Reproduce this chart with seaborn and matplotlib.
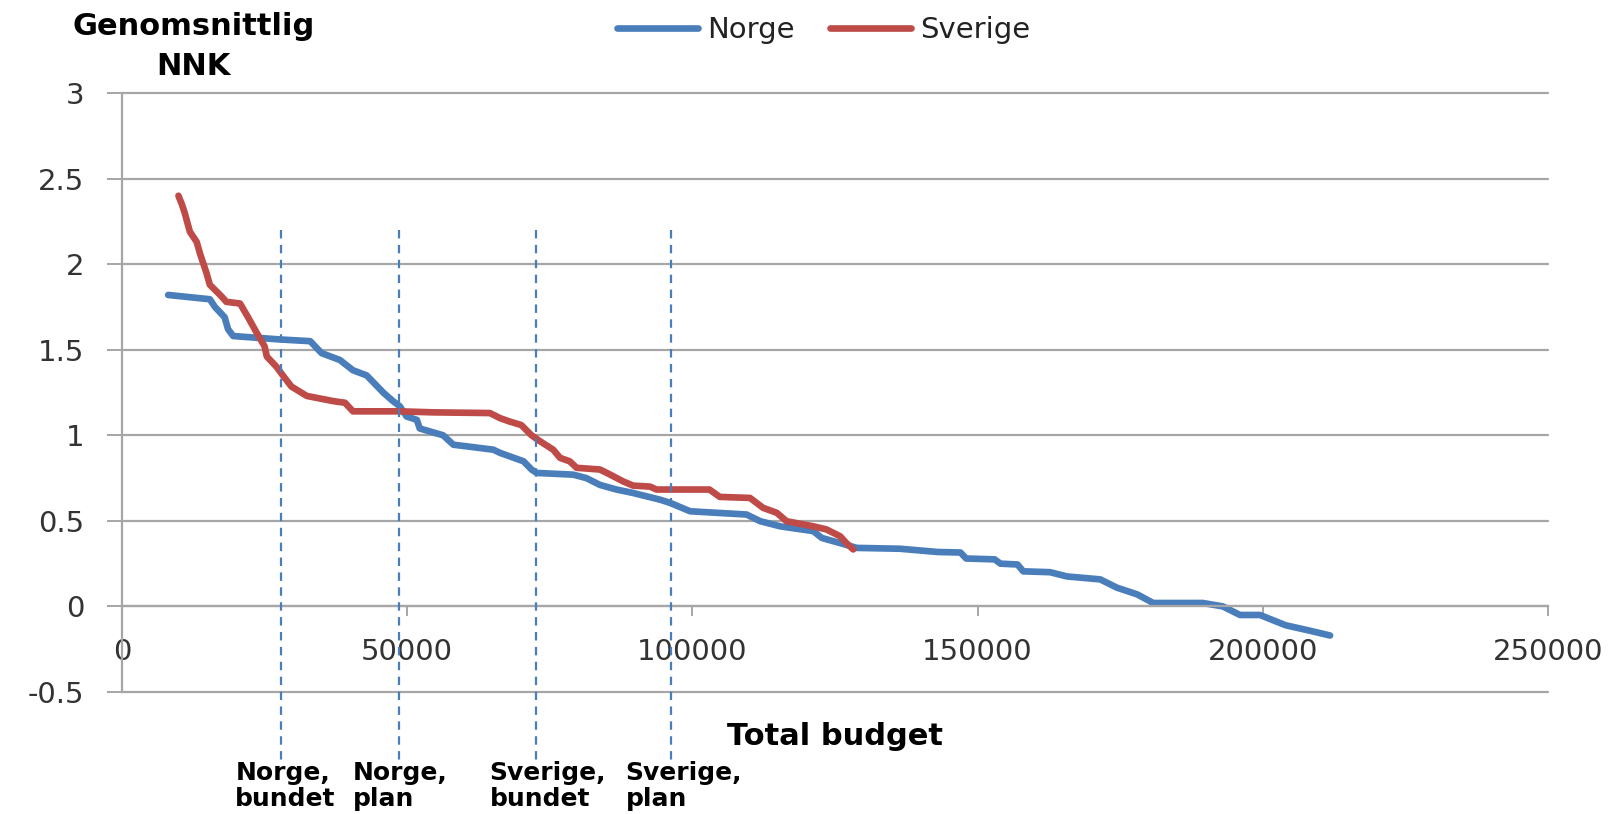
import numpy as np
import pandas as pd
import matplotlib
matplotlib.use("Agg")
import matplotlib.pyplot as plt
import seaborn as sns

sns.set_theme(style="white")
plt.rcParams['font.family'] = ['DejaVu Sans']
plt.rcParams['axes.unicode_minus'] = False

# values (budget in kr, average NNK)
norge_budget = [8100, 15400, 16300, 18000, 18600, 19500, 27700, 33000, 35000, 38200,
                40500, 42900, 45800, 47500, 48700, 49900, 51700, 52200, 56300, 58100,
                65100, 66300, 70400, 71800, 72700, 79100, 81400, 83800, 86700, 89600,
                92000, 94300, 96100, 99600, 109500, 111900, 115400, 121200, 122700, 125900,
                128800, 136400, 143000, 147000, 148000, 153000, 154000, 157000, 158000, 162700,
                165700, 171500, 174400, 178000, 180800, 189500, 193000, 196000, 199500, 204000,
                208000, 211800]
norge_nnk = [1.82, 1.795, 1.75, 1.69, 1.62, 1.58, 1.56, 1.55, 1.48, 1.44,
             1.38, 1.35, 1.25, 1.20, 1.17, 1.11, 1.09, 1.04, 1.00, 0.945,
             0.916, 0.897, 0.848, 0.80, 0.78, 0.77, 0.75, 0.71, 0.683, 0.663,
             0.643, 0.624, 0.605, 0.556, 0.537, 0.498, 0.468, 0.44, 0.40, 0.37,
             0.342, 0.337, 0.318, 0.315, 0.28, 0.275, 0.25, 0.245, 0.205, 0.20,
             0.175, 0.158, 0.11, 0.07, 0.02, 0.02, 0.0, -0.05, -0.05, -0.11,
             -0.14, -0.17]

sverige_budget = [9900, 10500, 11000, 11900, 13100, 13700, 14800, 15400, 17500, 18300,
                  20700, 22100, 23600, 25000, 25400, 27100, 28200, 29700, 32400, 37000,
                  39100, 40500, 48700, 54600, 64500, 66300, 68000, 70000, 71800, 73300,
                  75600, 76800, 78500, 79700, 83800, 85600, 87900, 89600, 92600, 93700,
                  103000, 104800, 110100, 112400, 114800, 116500, 121200, 123500, 125900, 127000,
                  128200]
sverige_nnk = [2.40, 2.35, 2.30, 2.19, 2.13, 2.06, 1.95, 1.88, 1.81, 1.78,
               1.77, 1.69, 1.60, 1.52, 1.46, 1.40, 1.35, 1.285, 1.23, 1.20,
               1.19, 1.14, 1.14, 1.134, 1.13, 1.10, 1.08, 1.06, 1.00, 0.965,
               0.916, 0.868, 0.848, 0.81, 0.80, 0.77, 0.73, 0.706, 0.70, 0.683,
               0.683, 0.64, 0.634, 0.576, 0.547, 0.498, 0.468, 0.45, 0.41, 0.37,
               0.333]

marker_budget = [27900, 48500, 72500, 96300]
marker_labels = ["Norge,\nbundet", "Norge,\nplan", "Sverige,\nbundet", "Sverige,\nplan"]

x_ticks = [0, 50000, 100000, 150000, 200000, 250000]
y_ticks = [-0.5, 0, 0.5, 1, 1.5, 2, 2.5, 3]

df = pd.concat([
    pd.DataFrame({"budget": norge_budget, "nnk": norge_nnk, "land": "Norge"}),
    pd.DataFrame({"budget": sverige_budget, "nnk": sverige_nnk, "land": "Sverige"}),
])

fig = plt.figure(figsize=(16.24, 8.14), dpi=100)
ax = fig.add_axes([0.0751, 0.1499, 0.8781, 0.7358])

grid_col = "#A6A6A6"
for yv in y_ticks:
    ax.axhline(yv, color=grid_col, lw=1.6, zorder=0, clip_on=False)

sns.lineplot(data=df, x="budget", y="nnk", hue="land", ax=ax,
             palette={"Norge": "#4A7EBB", "Sverige": "#BE4B48"},
             linewidth=4.8, sort=False, estimator=None, legend=True,
             solid_capstyle="round", solid_joinstyle="round")

for xb in marker_budget:
    ax.plot([xb, xb], [2.2, -0.91], color="#4A7EBB", lw=1.6,
            linestyle=(0, (3.8, 2.9)), clip_on=False, zorder=3)

for xb, lab in zip(marker_budget, marker_labels):
    ax.annotate(lab, xy=(xb, 0.034), xycoords=("data", "figure fraction"),
                xytext=(-33, 0), textcoords="offset points",
                ha="left", va="center", fontsize=18, fontweight="bold",
                color="black", linespacing=1.1, annotation_clip=False)

ax.set_xlim(0, 250000)
ax.set_ylim(-0.5, 3)
ax.set_xticks(x_ticks)
ax.set_xticklabels([str(v) for v in x_ticks])
ax.set_yticks(y_ticks)
ax.set_yticklabels(["{:g}".format(v) for v in y_ticks])

for s in ["top", "right"]:
    ax.spines[s].set_visible(False)
ax.spines["bottom"].set_position(("data", 0))
ax.spines["bottom"].set_color(grid_col)
ax.spines["bottom"].set_linewidth(1.6)
ax.spines["left"].set_color(grid_col)
ax.spines["left"].set_linewidth(1.6)

ax.tick_params(axis="x", direction="out", length=7, width=1.4, color=grid_col,
               labelsize=21, labelcolor="#333333", pad=16, bottom=True)
ax.tick_params(axis="y", direction="out", length=11, width=1.4, color=grid_col,
               labelsize=21, labelcolor="#333333", pad=16, left=True)
ax.set_xlabel("")
ax.set_ylabel("")

handles, labels = ax.get_legend_handles_labels()
ax.get_legend().remove()
leg = fig.legend(handles, labels, loc="center", bbox_to_anchor=(0.507, 0.963),
                 ncol=2, frameon=False, fontsize=21, handlelength=2.8,
                 handletextpad=0.3, columnspacing=1.2)
for h in leg.get_lines():
    h.set_linewidth(4.8)
for t in leg.get_texts():
    t.set_color("#222222")

fig.text(0.119, 0.943, "Genomsnittlig\nNNK", ha="center", va="center",
         fontsize=22, fontweight="bold", linespacing=1.45, color="black")
fig.text(0.514, 0.0946, "Total budget", ha="center", va="center",
         fontsize=22, fontweight="bold", color="black")

fig.savefig("out.png", dpi=100)
